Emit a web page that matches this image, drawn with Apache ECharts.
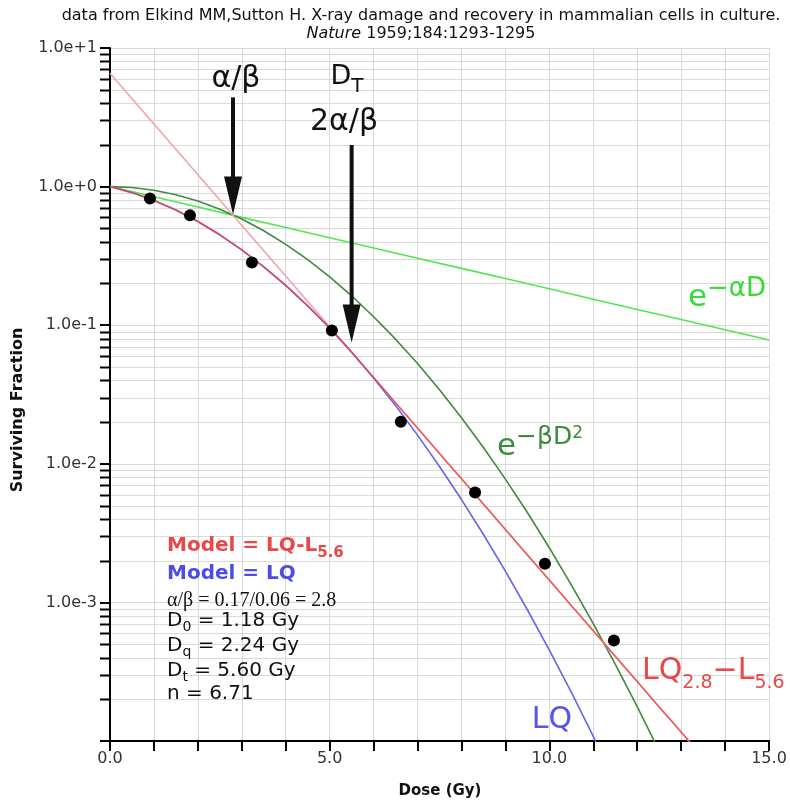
<!DOCTYPE html>
<html>
<head>
<meta charset="utf-8">
<script src="https://cdn.jsdelivr.net/npm/echarts@6/dist/echarts.min.js"></script>
<style>
  html, body { margin: 0; padding: 0; background: #fff; }
  #chart { width: 790px; height: 805px; }
</style>
</head>
<body>
<div id="chart"></div>
<script>
// Measured survival of V79 cells (Elkind & Sutton 1959)
const measuredDose = [0.91, 1.82, 3.23, 5.05, 6.62, 8.31, 9.90, 11.47];
const measuredSF   = [0.82, 0.62, 0.283, 0.0914, 0.0201, 0.0062, 0.0019, 0.00053];

// Linear-quadratic model curve
const lqDose = [0, 0.5, 1, 1.5, 2, 2.5, 3, 3.5, 4, 4.5, 5, 5.5, 6, 6.5, 7, 7.5, 8, 8.5, 9, 9.5, 10, 10.5, 11, 11.5];
const lqSF   = [1, 0.905, 0.795, 0.677, 0.560, 0.449, 0.350, 0.264, 0.194, 0.138, 0.0954, 0.0639, 0.0416, 0.0263,
                0.0161, 0.00956, 0.00552, 0.00309, 0.00168, 0.000885, 0.000453, 0.000225, 0.000108, 0.0000506];

// LQ-L model: LQ up to the transition dose, then straight on the log scale
const lqlDose = [0, 0.5, 1, 1.5, 2, 2.5, 3, 3.5, 4, 4.5, 5, 5.5, 5.6, 6, 6.5, 7, 7.5, 8, 8.5, 9, 9.5, 10, 10.5,
                 11, 11.5, 12, 12.5, 13, 13.5];
const lqlSF   = [1, 0.905, 0.795, 0.677, 0.560, 0.449, 0.350, 0.264, 0.194, 0.138, 0.0954, 0.0639, 0.0588,
                 0.0420, 0.0276, 0.0181, 0.01188, 0.00780, 0.00512, 0.00336, 0.00220, 0.00145, 0.000950,
                 0.000624, 0.000409, 0.000269, 0.000176, 0.000116, 0.0000760];

// Quadratic component e^(-beta D^2)
const quadDose = [0, 0.5, 1, 1.5, 2, 2.5, 3, 3.5, 4, 4.5, 5, 5.5, 6, 6.5, 7, 7.5, 8, 8.5, 9, 9.5, 10, 10.5, 11,
                  11.5, 12, 12.5];
const quadSF   = [1, 0.985, 0.942, 0.874, 0.787, 0.687, 0.583, 0.480, 0.383, 0.297, 0.223, 0.163, 0.115,
                  0.0793, 0.0529, 0.0342, 0.0215, 0.0131, 0.00775, 0.00445, 0.00248, 0.00134, 0.000703,
                  0.000358, 0.000177, 0.0000849];

// Linear component e^(-alpha D)
const linDose = [0, 1, 2, 3, 4, 5, 6, 7, 8, 9, 10, 11, 12, 13, 14, 15];
const linSF   = [1, 0.844, 0.712, 0.600, 0.507, 0.427, 0.361, 0.304, 0.257, 0.217, 0.183, 0.154, 0.130,
                 0.110, 0.0926, 0.0781];

// Terminal straight line of the LQ-L model, extended back to zero dose
const tangentDose = [0, 5.6, 13.5];
const tangentSF   = [6.57, 0.0588, 0.0000760];

// Arrows marking alpha/beta and the transition dose D_T
const arrowDose   = [2.8, 5.5];
const arrowTailSF = [4.4, 2.0];
const arrowTipSF  = [0.628, 0.0749];

// Axis tick labels
const xTickLabels = { 0: '0.0', 5: '5.0', 10: '10.0', 15: '15.0' };
const yTickLabels = { '-3': '1.0e-3', '-2': '1.0e-2', '-1': '1.0e-1', '0': '1.0e+0', '1': '1.0e+1' };

// Intermediate values (2..9 x 10^k) for the minor ticks and grid lines
const yMinorValues = [
  0.0002, 0.0003, 0.0004, 0.0005, 0.0006, 0.0007, 0.0008, 0.0009,
  0.002, 0.003, 0.004, 0.005, 0.006, 0.007, 0.008, 0.009,
  0.02, 0.03, 0.04, 0.05, 0.06, 0.07, 0.08, 0.09,
  0.2, 0.3, 0.4, 0.5, 0.6, 0.7, 0.8, 0.9,
  2, 3, 4, 5, 6, 7, 8, 9
];

const FONT = 'DejaVu Sans';
const GRID_COLOR = '#d9d9d9';

const zip = (xs, ys) => xs.map((x, i) => [x, ys[i]]);

const chart = echarts.init(document.getElementById('chart'));

function lineSeries(name, xs, ys, color, width, z, opacity) {
  return {
    name, type: 'line', data: zip(xs, ys), showSymbol: false, symbol: 'none',
    smooth: false, clip: true, z,
    lineStyle: { color, width, opacity: opacity === undefined ? 1 : opacity }
  };
}

chart.setOption({
  animation: false,
  backgroundColor: '#fff',
  grid: { left: 110, top: 48, right: 21, bottom: 64, containLabel: false, outerBoundsMode: 'none' },
  xAxis: {
    type: 'value', min: 0, max: 15, interval: 1,
    axisLine: { lineStyle: { color: '#000', width: 2 } },
    axisTick: { length: 10, lineStyle: { color: '#000', width: 2 } },
    axisLabel: {
      margin: 10, fontFamily: FONT, fontSize: 16, color: '#333',
      formatter: v => {
        const r = Math.round(v);
        return Math.abs(v - r) < 1e-6 && xTickLabels[r] !== undefined ? xTickLabels[r] : '';
      }
    },
    splitLine: { show: true, lineStyle: { color: GRID_COLOR, width: 1 } }
  },
  yAxis: {
    type: 'log', logBase: 10, min: 0.0001, max: 10,
    axisLine: { show: true, lineStyle: { color: '#000', width: 2 } },
    axisTick: { show: true, length: 10, lineStyle: { color: '#000', width: 2 } },
    axisLabel: {
      margin: 13, fontFamily: FONT, fontSize: 16, color: '#333',
      formatter: v => yTickLabels[String(Math.round(Math.log10(v)))] || ''
    },
    splitLine: { show: true, lineStyle: { color: GRID_COLOR, width: 1 } }
  },
  series: [
    {
      name: 'minor', type: 'custom', z: 1, silent: true,
      data: yMinorValues.map(v => [0, v]),
      renderItem: (params, api) => {
        const v = api.value(1);
        const a = api.coord([0, v]);
        const b = api.coord([15, v]);
        const y = Math.round(a[1]) + 0.5;
        return {
          type: 'group',
          children: [
            { type: 'line', shape: { x1: a[0] + 1, y1: y, x2: b[0], y2: y },
              style: { stroke: GRID_COLOR, lineWidth: 1 } },
            { type: 'line', shape: { x1: a[0] - 10, y1: y, x2: a[0], y2: y },
              style: { stroke: '#000', lineWidth: 2 } }
          ]
        };
      }
    },
    lineSeries('e-aD', linDose, linSF, '#4ee84e', 1.6, 2),
    lineSeries('e-bD2', quadDose, quadSF, '#3e8a3e', 1.6, 2),
    lineSeries('tangent', tangentDose, tangentSF, '#f2a4a4', 1.6, 2),
    lineSeries('LQ', lqDose, lqSF, '#6464f0', 1.6, 3),
    lineSeries('LQ-L', lqlDose, lqlSF, '#ec4646', 1.6, 4, 0.8),
    {
      name: 'data', type: 'scatter', data: zip(measuredDose, measuredSF),
      symbol: 'circle', symbolSize: 12, z: 5,
      itemStyle: { color: '#000', opacity: 1 }
    }
  ]
});

// ---- text annotations ----
function text(x, y, str, opts) {
  opts = opts || {};
  return {
    type: 'text', x, y, z: 10, silent: true, rotation: opts.rotation || 0,
    style: {
      text: str,
      fontFamily: opts.family || FONT,
      fontSize: opts.size || 16,
      fontWeight: opts.weight || 'normal',
      fontStyle: opts.style || 'normal',
      fill: opts.color || '#111',
      align: opts.align || 'center', textAlign: opts.align || 'center',
      verticalAlign: 'middle', textVerticalAlign: 'middle',
      rich: opts.rich
    }
  };
}
function tok(size, lineHeight, color, extra) {
  return Object.assign({ fontFamily: FONT, fontSize: size, lineHeight, fill: color, color }, extra || {});
}

const red = '#e84848', blue = '#4d4de6', ink = '#111';
const graphics = [
  // title
  text(421, 16, 'data from Elkind MM,Sutton H. X-ray damage and recovery in mammalian cells in culture.', { size: 16 }),
  text(421, 34, '{i|Nature}{n| 1959;184:1293-1295}', {
    size: 16,
    rich: { i: tok(16, 18, ink, { fontStyle: 'italic' }), n: tok(16, 18, ink) }
  }),
  // axis names
  text(18, 410, 'Surviving Fraction', { size: 16, weight: 'bold', rotation: Math.PI / 2 }),
  text(440, 791, 'Dose (Gy)', { size: 15, weight: 'bold' }),

  // arrow captions
  text(236, 79, 'α/β', { size: 30 }),
  text(347, 77, '{d|D}{t|T}', {
    size: 26, rich: { d: tok(27, 40, ink), t: tok(20, 20, ink, { verticalAlign: 'bottom' }) }
  }),
  text(344, 122, '2α/β', { size: 30 }),

  // curve labels
  text(727, 298, '{e|e}{s|−αD}', {
    size: 30, rich: { e: tok(31, 44, '#33dd33'), s: tok(26, 26, '#33dd33', { verticalAlign: 'top' }) }
  }),
  text(540, 447, '{e|e}{s|−βD}{p|2}', {
    size: 30, rich: {
      e: tok(31, 44, '#3b8c3b'),
      s: tok(25, 24, '#3b8c3b', { verticalAlign: 'top' }),
      p: tok(17, 8, '#3b8c3b', { verticalAlign: 'top' })
    }
  }),
  text(552, 720, 'LQ', { size: 30, color: '#5555ee' }),
  text(642, 671, '{m|LQ}{s|2.8}{m|−L}{s|5.6}', {
    size: 29, align: 'left', rich: {
      m: tok(30, 44, red),
      s: tok(19, 12, red, { verticalAlign: 'bottom' })
    }
  }),

  // model summary
  text(167, 546, '{m|Model = LQ-L}{s|5.6}', {
    align: 'left', rich: {
      m: tok(20, 30, red, { fontWeight: 'bold' }),
      s: tok(15, 10, red, { fontWeight: 'bold', verticalAlign: 'bottom' })
    }
  }),
  text(167, 574, 'Model = LQ', { align: 'left', size: 20, weight: 'bold', color: blue }),
  text(167, 601, 'α/β = 0.17/0.06 = 2.8', { align: 'left', size: 20, family: 'Liberation Serif' }),
  text(167, 621, '{m|D}{s|0}{m| = 1.18 Gy}', {
    align: 'left', rich: { m: tok(20, 26, ink), s: tok(14, 12, ink, { verticalAlign: 'bottom' }) }
  }),
  text(167, 646, '{m|D}{s|q}{m| = 2.24 Gy}', {
    align: 'left', rich: { m: tok(20, 26, ink), s: tok(14, 12, ink, { verticalAlign: 'bottom' }) }
  }),
  text(167, 671, '{m|D}{s|t}{m| = 5.60 Gy}', {
    align: 'left', rich: { m: tok(20, 26, ink), s: tok(14, 12, ink, { verticalAlign: 'bottom' }) }
  }),
  text(167, 694, 'n = 6.71', { align: 'left', size: 20 })
];

// arrows placed through the axis scales
arrowDose.forEach((d, i) => {
  const tail = chart.convertToPixel({ gridIndex: 0 }, [d, arrowTailSF[i]]);
  const tip = chart.convertToPixel({ gridIndex: 0 }, [d, arrowTipSF[i]]);
  const headLen = 38, headHalf = 9;
  graphics.push({
    type: 'line', z: 9, silent: true,
    shape: { x1: tail[0], y1: tail[1], x2: tip[0], y2: tip[1] - headLen + 2 },
    style: { stroke: '#111', lineWidth: 4 }
  });
  graphics.push({
    type: 'polygon', z: 9, silent: true,
    shape: { points: [[tip[0] - headHalf, tip[1] - headLen], [tip[0] + headHalf, tip[1] - headLen], [tip[0], tip[1]]] },
    style: { fill: '#111' }
  });
});

chart.setOption({ graphic: graphics });
</script>
</body>
</html>
